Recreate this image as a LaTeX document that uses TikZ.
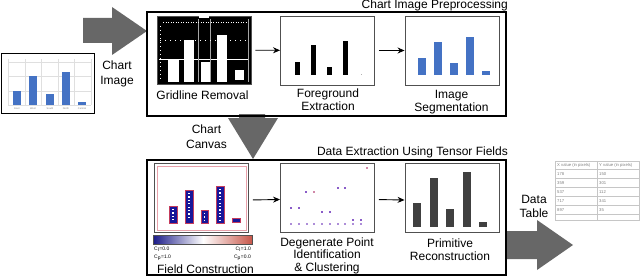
\documentclass[tikz,border=0pt]{standalone}
\usepackage{fontspec}
\setmainfont{Liberation Sans}
\usetikzlibrary{positioning,arrows.meta}
\definecolor{barblue}{HTML}{4472C4}
\definecolor{blockgray}{HTML}{676767}
\definecolor{framegray}{HTML}{505050}
\definecolor{darkbar}{HTML}{404040}
\definecolor{navy}{HTML}{1A1A88}
\definecolor{fieldred}{HTML}{C8574A}
\definecolor{rimred}{HTML}{C43C5C}
\definecolor{rimpink}{HTML}{E8A0AA}
\definecolor{dotpurple}{HTML}{8A5CC8}
\definecolor{dotpink}{HTML}{D088A8}

\begin{document}
\begin{tikzpicture}[x=1pt,y=-1pt,
    every node/.style={font=\fontsize{12}{13}\selectfont,inner sep=0pt},
    stage/.style={draw,line width=1.6pt},
    thumb/.style={draw=framegray,line width=0.9pt,fill=white,minimum width=94pt,minimum height=69pt},
    lbl/.style={anchor=base,align=center},
    tinytxt/.style={font=\fontsize{5}{6}\selectfont},
    cell/.style={font=\fontsize{4.2}{5}\selectfont,text=gray,anchor=base west},
    flow/.style={-{Stealth[length=7pt,width=6pt]},line width=0.9pt,shorten <=4pt}]
    \useasboundingbox (0,0) rectangle (640,278);

    % block arrows
    \fill[blockgray] (83,18) -- (112,18) -- (112,7) -- (147,31) -- (112,55) -- (112,43) -- (83,43) -- cycle;
    \fill[blockgray] (239,114) -- (239,118) -- (228,118) -- (253,159) -- (278,118) -- (265,118) -- (265,114) -- cycle;
    \fill[blockgray] (506,231) -- (537,231) -- (537,220) -- (573,245) -- (537,270) -- (537,259) -- (506,259) -- cycle;

    % input chart image
    \node[draw,line width=0.9pt,minimum width=93pt,minimum height=60pt] (input) at (47.5,83) {};
    \foreach \y in {62,76,91,105} { \draw[gray!25,line width=0.4pt] (8,\y) -- (91,\y); }
    \foreach \x in {8,25,41,58,74,91} { \draw[gray!25,line width=0.4pt] (\x,59) -- (\x,105); }
    \foreach \x/\t in {13/91,29/76,46/94,62/72,78/102} { \fill[barblue] (\x,\t) rectangle (\x+8,105); }
    \foreach \x/\c [count=\i] in {17/East,33/West,50/South,66/North,82/Central} {
      \node[font=\fontsize{2.5}{3}\selectfont,text=gray] (cat\i) at (\x,108.5) {\c};
    }

    % stage boxes
    \node[stage,minimum width=359pt,minimum height=104pt] (prep) at (326.5,64) {};
    \node[stage,minimum width=359pt,minimum height=115pt] (extr) at (326.5,217.5) {};
    \node[anchor=base east] (preptitle) at (508,9) {Chart Image Preprocessing};
    \node[anchor=base east] (extrtitle) at (508,155.8) {Data Extraction Using Tensor Fields};

    % preprocessing thumbnails
    \node[thumb,fill=black,minimum height=68pt] (grid) at (204,50) {};
    \node[thumb] (fore) at (327.5,50.5) {};
    \node[thumb] (seg) at (452,50.5) {};

    \foreach \l/\r/\t/\b in {168/179/60/82,184/194/40/82,201/211/62/82,217/227/35/82,235/244/70/80} {
      \fill[white] (\l,\t) rectangle (\r,\b);
    }
    \draw[white,line width=0.8pt] (159,59) -- (249,59);
    \draw[gray!70,line width=0.6pt] (198,19) -- (198,82) (210,19) -- (210,82) (248,19) -- (248,82);
    \fill[white] (199,16) rectangle (209,18.5);
    \draw[white,line width=1pt,dash pattern=on 1pt off 1.5pt] (163,23) -- (247,23);
    \draw[white,line width=0.8pt,dash pattern=on 1pt off 4pt] (160,40) -- (247,40);
    \draw[white,line width=0.8pt,dash pattern=on 1pt off 3pt] (160,26) -- (160,80);

    \foreach \x/\t in {295/62,311/45,327/67,343/41} { \fill[black] (\x,\t) rectangle (\x+4.5,75); }
    \fill[gray!60] (360.5,74) rectangle (362,75);

    \foreach \x/\t in {418/58,434/42,450/63,466/37,482/71} { \fill[barblue] (\x,\t) rectangle (\x+8,75); }

    \draw[flow] (grid) -- (fore);
    \draw[flow] (fore) -- (seg);

    \node[lbl] (gridlbl) at (202.5,99.3) {Gridline Removal};
    \node[lbl] (forelbl) at (328,110.3) {Foreground\\Extraction};
    \node[lbl] (seglbl) at (451.5,111.3) {Image\\Segmentation};
    \node[lbl,font=\fontsize{12}{15}\selectfont] (imglbl) at (117,84.8) {Chart\\Image};
    \node[lbl,font=\fontsize{12}{15}\selectfont] (canvaslbl) at (206.5,148.8) {Chart\\Canvas};

    % tensor field thumbnails
    \node[thumb] (field) at (201.5,198) {};
    \node[thumb] (degen) at (327.5,197.5) {};
    \node[thumb] (prim) at (452,198) {};

    \draw[rimpink,line width=0.8pt] (157,166) rectangle (246.5,230);
    \foreach \l/\r/\t/\b in {169/177/206/223,185/193/190/223,201/208/210/223,216/224/186/223,232/240/218/222} {
      \filldraw[fill=navy!85!blue,draw=rimred,line width=0.8pt] (\l,\t) rectangle (\r,\b);
    }
    \foreach \cx/\s/\e in {173/209/220,189/193/220,204.5/213/220,220/189/220} {
      \draw[white,line width=1.6pt,dash pattern=on 1.2pt off 2.2pt] (\cx,\s) -- (\cx,\e);
    }
    \shade[left color=navy,right color=white] (153,235) rectangle (203,244);
    \shade[left color=white,right color=fieldred] (203,235) rectangle (252,244);
    \draw[framegray,line width=0.6pt] (153,235) rectangle (252,244);
    \node[tinytxt,anchor=base west] (cl0) at (154,250) {C\textsubscript{l}=0.0};
    \node[tinytxt,anchor=base west] (cp1) at (154,258) {C\textsubscript{p}=1.0};
    \node[tinytxt,anchor=base east] (cl1) at (251,250) {C\textsubscript{l}=1.0};
    \node[tinytxt,anchor=base east] (cp0) at (251,258) {C\textsubscript{p}=0.0};

    \foreach \x/\y in {306/192,338/188,345/188,291/208,299/208,322/212,330/212,353/220,361/220} {
      \fill[dotpurple] (\x-1,\y-1) rectangle (\x+1,\y+1);
    }
    \foreach \x/\y in {314/192,367/168} { \fill[dotpink] (\x-1,\y-1) rectangle (\x+1,\y+1); }
    \foreach \x in {291,299,307,314,322,330,338,345,353,361} { \fill[dotpurple!70] (\x-1,223) rectangle (\x+1,225); }

    \foreach \l/\t in {413/203,430/178,446/209,463/172,479/222} { \fill[darkbar] (\l,\t) rectangle (\l+8,227); }

    \draw[flow] ([yshift=-2pt]field.east) -- ([yshift=-2pt]degen.west);
    \draw[flow] ([yshift=-2pt]degen.east) -- ([yshift=-2pt]prim.west);

    \node[lbl] (fieldlbl) at (205.5,273.8) {Field Construction};
    \node[lbl,font=\fontsize{12}{12.5}\selectfont] (degenlbl) at (327,271.3) {Degenerate Point\\Identification\\\& Clustering};
    \node[lbl] (primlbl) at (450,260.8) {Primitive\\Reconstruction};
    \node[lbl,font=\fontsize{12}{14}\selectfont] (tablelbl) at (534,217.3) {Data\\Table};

    % data table
    \draw[gray!45,line width=0.5pt] (555,161) rectangle (639,220);
    \foreach \y in {169,178,187,196,205,214} { \draw[gray!45,line width=0.5pt] (555,\y) -- (639,\y); }
    \draw[gray!45,line width=0.5pt] (597,161) -- (597,220);
    \node[cell] (xhead) at (557,166.5) {X value (in pixels)};
    \node[cell] (yhead) at (599,166.5) {Y value (in pixels)};
    \foreach \a/\b [count=\i] in {178/150,359/301,537/112,717/341,897/35} {
      \node[cell] (xv\i) at (557,166+9*\i) {\a};
      \node[cell] (yv\i) at (599,166+9*\i) {\b};
    }
\end{tikzpicture}
\end{document}
